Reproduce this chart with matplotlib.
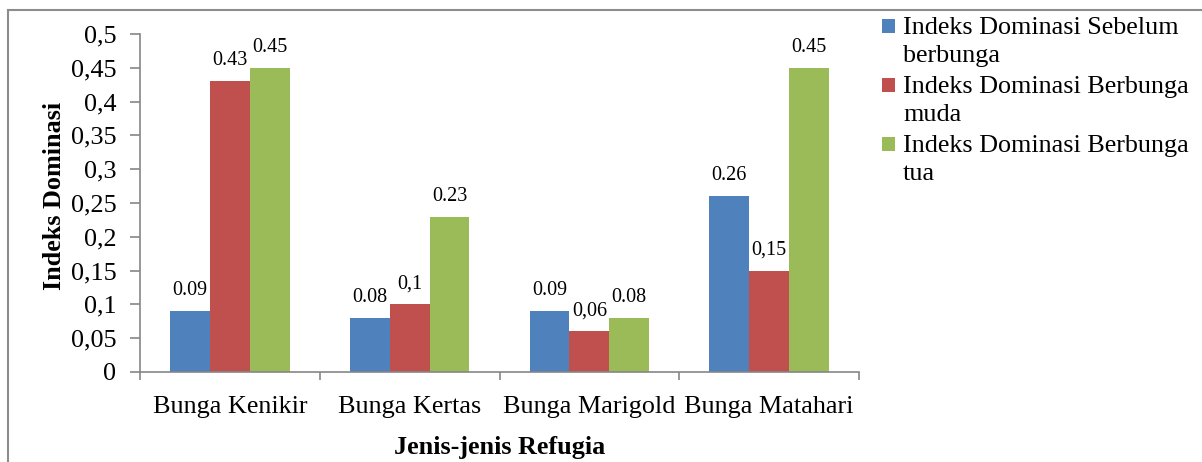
import numpy as np
import matplotlib.pyplot as plt
from matplotlib.patches import Rectangle

# ─── Data ──────────────────────────────────────────────────────────
categories = ['Bunga Kenikir', 'Bunga Kertas', 'Bunga Marigold', 'Bunga Matahari']
series_names = [['Indeks Dominasi Sebelum', 'berbunga'],
                ['Indeks Dominasi Berbunga', 'muda'],
                ['Indeks Dominasi Berbunga', 'tua']]
sebelum = [0.09, 0.08, 0.09, 0.26]
muda    = [0.43, 0.10, 0.06, 0.15]
tua     = [0.45, 0.23, 0.08, 0.45]
# label text as printed on each bar (mixed decimal separators)
sebelum_lbl = ['0.09', '0.08', '0.09', '0.26']
muda_lbl    = ['0.43', '0,1', '0,06', '0,15']
tua_lbl     = ['0.45', '0.23', '0.08', '0.45']
y_ticks = [0, 0.05, 0.1, 0.15, 0.2, 0.25, 0.3, 0.35, 0.4, 0.45, 0.5]
y_tick_labels = ['0', '0,05', '0,1', '0,15', '0,2', '0,25', '0,3', '0,35', '0,4', '0,45', '0,5']

colors = ['#4F81BD', '#C0504D', '#9BBB59']
GREY = '#868686'
FS = 18.8

plt.rcParams['font.family'] = ['Liberation Serif', 'DejaVu Serif']

fig = plt.figure(figsize=(12.02, 4.62), dpi=100)
W, H = 1202, 462
ax = fig.add_axes([140 / W, 1 - 372 / H, (859 - 140) / W, (372 - 34) / H])

x = np.arange(len(categories))
bw = 0.222
for k, (vals, lbls) in enumerate(zip([sebelum, muda, tua],
                                     [sebelum_lbl, muda_lbl, tua_lbl])):
    pos = x + (k - 1) * bw
    ax.bar(pos, vals, width=bw, color=colors[k], edgecolor='none')
    for xp, v, s in zip(pos, vals, lbls):
        ax.annotate(s, (xp, v), xytext=(0, 11.5), textcoords='offset points',
                    ha='center', va='baseline', fontsize=14.5)

ax.set_xlim(-0.5, 3.5)
ax.set_ylim(0, 0.5)
ax.set_yticks(y_ticks)
ax.set_yticklabels(y_tick_labels, fontsize=FS)

# boundary ticks between groups, labels at group centres
ax.set_xticks(np.arange(-0.5, 3.6, 1.0))
ax.set_xticklabels([])
ax.set_xticks(x, minor=True)
ax.set_xticklabels(categories, minor=True, fontsize=FS)
ax.tick_params(axis='x', which='major', length=6, color=GREY, width=1.2)
ax.tick_params(axis='x', which='minor', length=0, pad=17)
ax.tick_params(axis='y', length=7, color=GREY, width=1.2, pad=10)

for side in ['top', 'right']:
    ax.spines[side].set_visible(False)
for side in ['left', 'bottom']:
    ax.spines[side].set_color(GREY)
    ax.spines[side].set_linewidth(1.2)

ax.set_xlabel('Jenis-jenis Refugia', fontsize=FS, fontweight='bold')
ax.xaxis.set_label_coords(0.5, -0.188)
ax.set_ylabel('Indeks Dominasi', fontsize=FS, fontweight='bold')
ax.yaxis.set_label_coords(-0.103, 0.52)

# legend: square swatch beside the first line of each label
for k, lines in enumerate(series_names):
    base = 34 + k * 59
    fig.patches.append(Rectangle((882 / W, 1 - (base - 1) / H), 13 / W, 14 / H,
                                 facecolor=colors[k], edgecolor='none',
                                 transform=fig.transFigure))
    for j, line in enumerate(lines):
        fig.text(903 / W, 1 - (base + 28 * j) / H, line, fontsize=FS,
                 va='baseline', ha='left')

# outer chart frame
fig.patches.append(Rectangle((8 / W, -0.1), 1.2, 1 - 10 / H + 0.1,
                             facecolor='none', edgecolor='#8c8c8c', linewidth=1.5,
                             transform=fig.transFigure))

fig.savefig('out.png', dpi=100)
